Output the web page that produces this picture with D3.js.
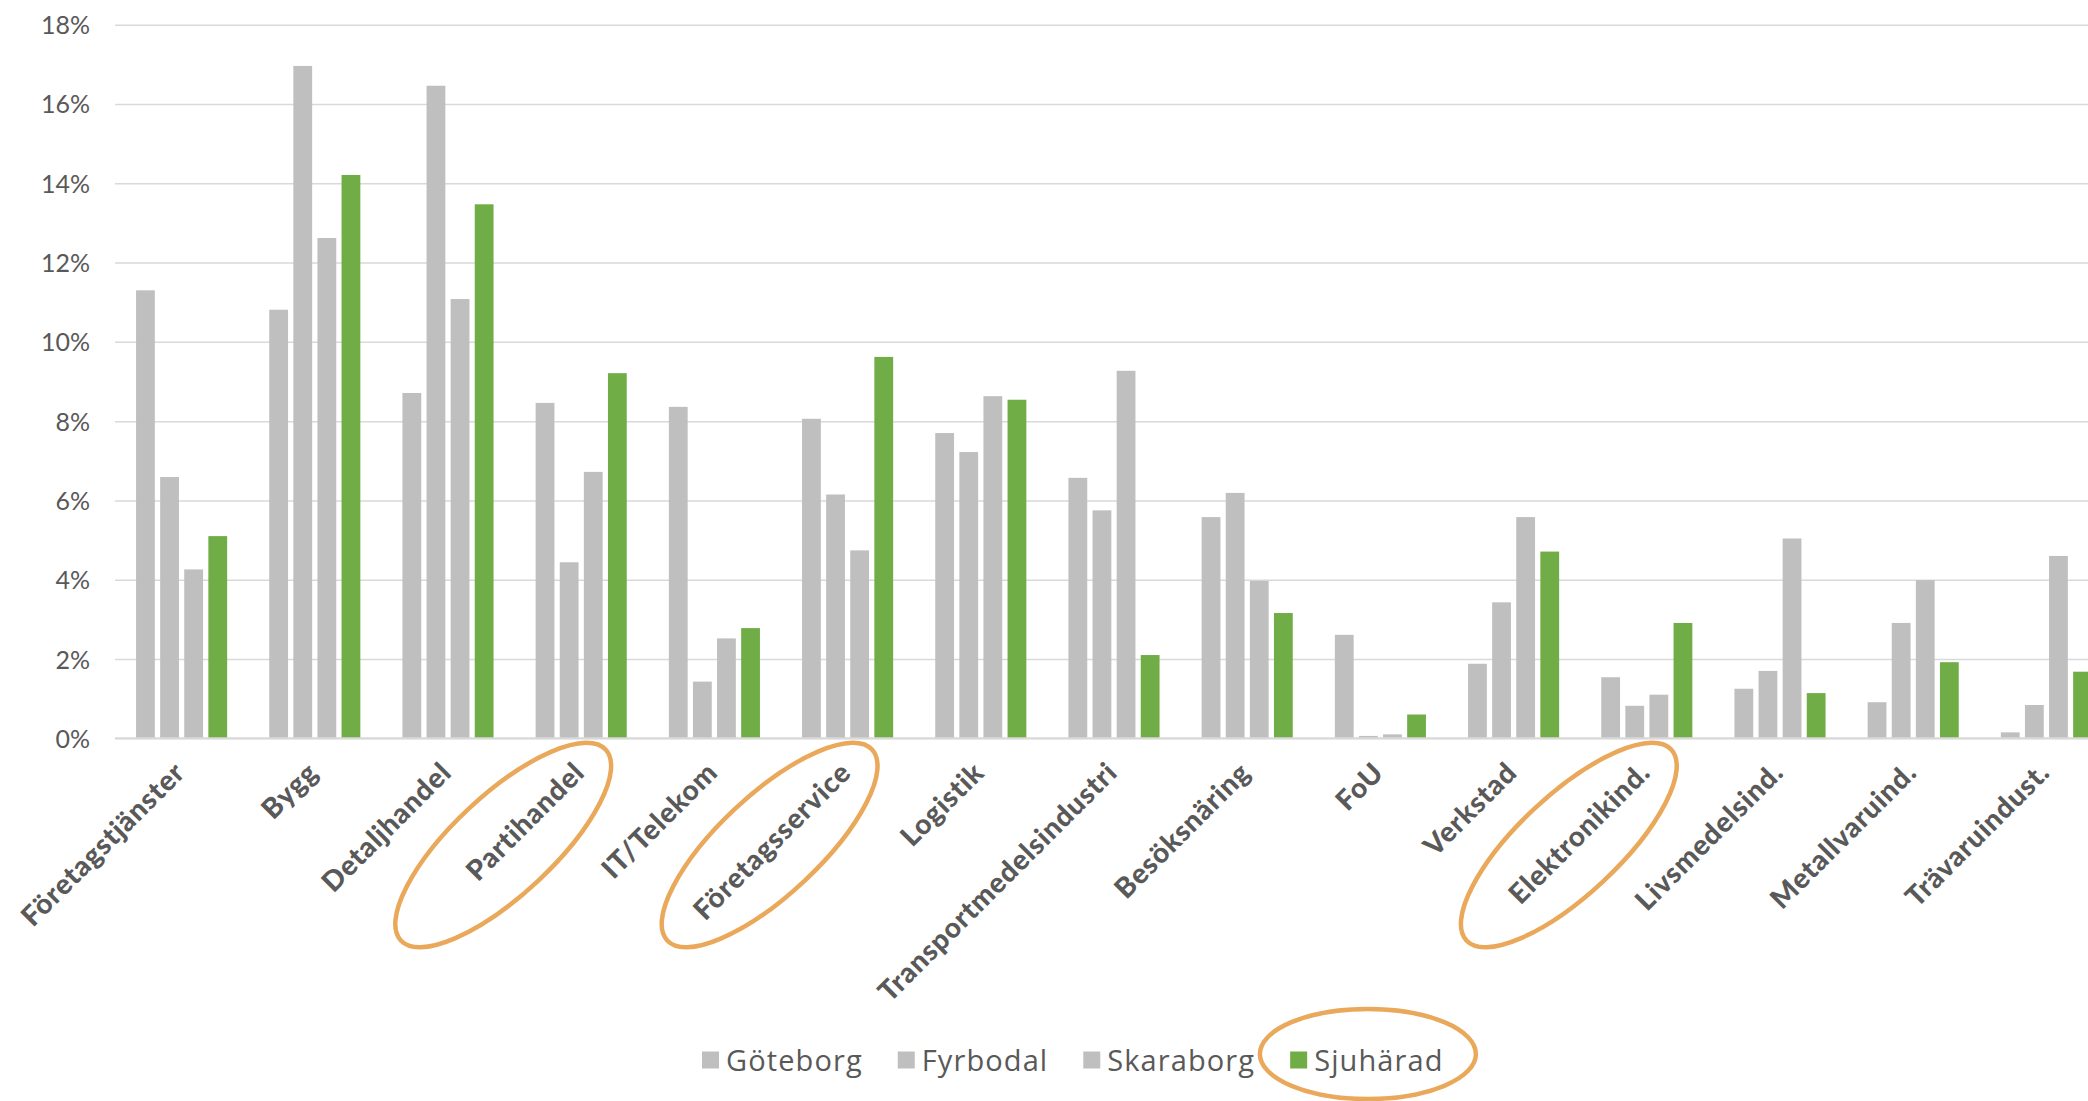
<!DOCTYPE html>
<html><head><meta charset="utf-8">
<script src="https://cdn.jsdelivr.net/npm/d3@7"></script>
<style>
html,body{margin:0;padding:0;background:#fff;}
svg{display:block;}
</style></head>
<body>
<svg id="chart" width="2088" height="1101"></svg>
<script>
const categories = ["Företagstjänster","Bygg","Detaljhandel","Partihandel","IT/Telekom","Företagsservice","Logistik","Transportmedelsindustri","Besöksnäring","FoU","Verkstad","Elektronikind.","Livsmedelsind.","Metallvaruind.","Trävaruindust."];
const seriesNames = ["Göteborg","Fyrbodal","Skaraborg","Sjuhärad"];
const goteborg  = [11.30,10.81,8.71,8.46,8.36,8.06,7.70,6.57,5.58,2.61,1.88,1.54,1.25,0.91,0.15];
const fyrbodal  = [6.59,16.96,16.46,4.44,1.43,6.15,7.22,5.75,6.19,0.06,3.43,0.82,1.70,2.91,0.84];
const skaraborg = [4.26,12.62,11.08,6.72,2.52,4.74,8.63,9.27,3.97,0.10,5.58,1.10,5.04,3.99,4.60];
const sjuharad  = [5.10,14.21,13.47,9.21,2.78,9.62,8.54,2.10,3.16,0.60,4.71,2.91,1.14,1.92,1.68];
const seriesColors = ["#BFBFBF","#BFBFBF","#BFBFBF","#70AD47"];
const yTicks = [0,2,4,6,8,10,12,14,16,18];
const highlighted = ["Partihandel","Företagsservice","Elektronikind."];
const highlightedSeries = "Sjuhärad";

const seriesValues = [goteborg, fyrbodal, skaraborg, sjuharad];
const svg = d3.select("#chart");
const textColor = "#595959";

const plotLeft = 115, step = 133.2;
const x0 = d3.scaleBand().domain(categories).range([plotLeft, plotLeft + step*categories.length]).padding(0);
const groupW = 91.1;
const x1 = d3.scaleBand().domain(seriesNames)
  .range([step/2 - groupW/2, step/2 + groupW/2]).paddingInner(0.22).paddingOuter(0);
const y = d3.scaleLinear().domain([0,18]).range([738.3, 24.7]);
const color = d3.scaleOrdinal().domain(seriesNames).range(seriesColors);

// gridlines + y labels
const yAxis = d3.axisLeft(y).tickValues(yTicks).tickFormat(d => d + "%").tickSize(-(2088 - plotLeft)).tickPadding(25);
const gy = svg.append("g").attr("transform", `translate(${plotLeft},0)`).call(yAxis);
gy.select(".domain").remove();
gy.selectAll(".tick line").attr("stroke", "#D9D9D9").attr("stroke-width", 1.5);
gy.selectAll(".tick text").attr("fill", textColor).attr("dy", "0.36em")
  .style("font-family", "Lato, 'Noto Sans', sans-serif").style("font-size", "25px");

// bars
const groups = svg.append("g").selectAll("g").data(categories).join("g")
  .attr("transform", d => `translate(${x0(d)},0)`);
groups.selectAll("rect").data((c, i) => seriesNames.map((s, j) => ({s, v: seriesValues[j][i]})))
  .join("rect")
  .attr("x", d => x1(d.s))
  .attr("width", x1.bandwidth())
  .attr("y", d => y(d.v))
  .attr("height", d => y(0) - y(d.v))
  .attr("fill", d => color(d.s));

// baseline
svg.append("line").attr("x1", plotLeft).attr("x2", 2088).attr("y1", y(0)).attr("y2", y(0))
  .attr("stroke", "#D9D9D9").attr("stroke-width", 2);

// x labels
const xAxis = d3.axisBottom(x0).tickSize(0).tickPadding(0);
const gx = svg.append("g").attr("transform", `translate(0,${y(0)})`).call(xAxis);
gx.select(".domain").remove();
gx.selectAll(".tick text")
  .attr("fill", textColor)
  .attr("text-anchor", "end")
  .attr("dy", null).attr("y", null)
  .attr("transform", "translate(5,36) rotate(-45)")
  .style("font-family", "Lato, 'Noto Sans', sans-serif")
  .style("font-size", "28px").style("font-weight", "900").style("letter-spacing", "0.8px");

// legend
const legend = svg.append("g").attr("transform", "translate(0,1060)");
let lx = 702;
const items = [];
seriesNames.forEach((s, i) => {
  const g = legend.append("g").attr("transform", `translate(${lx},0)`);
  g.append("rect").attr("x", 0).attr("y", -8.5).attr("width", 17).attr("height", 17).attr("fill", color(s));
  const t = g.append("text").attr("x", 24).attr("y", 10.5).text(s)
    .attr("fill", textColor).style("font-family", "'Open Sans', 'Noto Sans', sans-serif")
    .style("font-size", "29px").style("letter-spacing", "1.1px");
  const w = t.node().getComputedTextLength();
  items.push({s, x: lx, w: 24 + w});
  lx += 24 + w + 35;
});

// annotation ellipses
const orange = "#E9A85A";
const ann = svg.append("g");
highlighted.forEach(c => {
  const cx = x0(c) + step/2 - 78, cy = 845;
  ann.append("ellipse").attr("cx", 0).attr("cy", 0).attr("rx", 140).attr("ry", 50)
    .attr("transform", `translate(${cx},${cy}) rotate(-43)`)
    .attr("fill", "none").attr("stroke", orange).attr("stroke-width", 4.5);
});
const li = items.find(d => d.s === highlightedSeries);
ann.append("ellipse").attr("cx", li.x + li.w/2 + 1).attr("cy", 1054).attr("rx", 108).attr("ry", 45)
  .attr("fill", "none").attr("stroke", orange).attr("stroke-width", 4.5);
</script>
</body></html>
